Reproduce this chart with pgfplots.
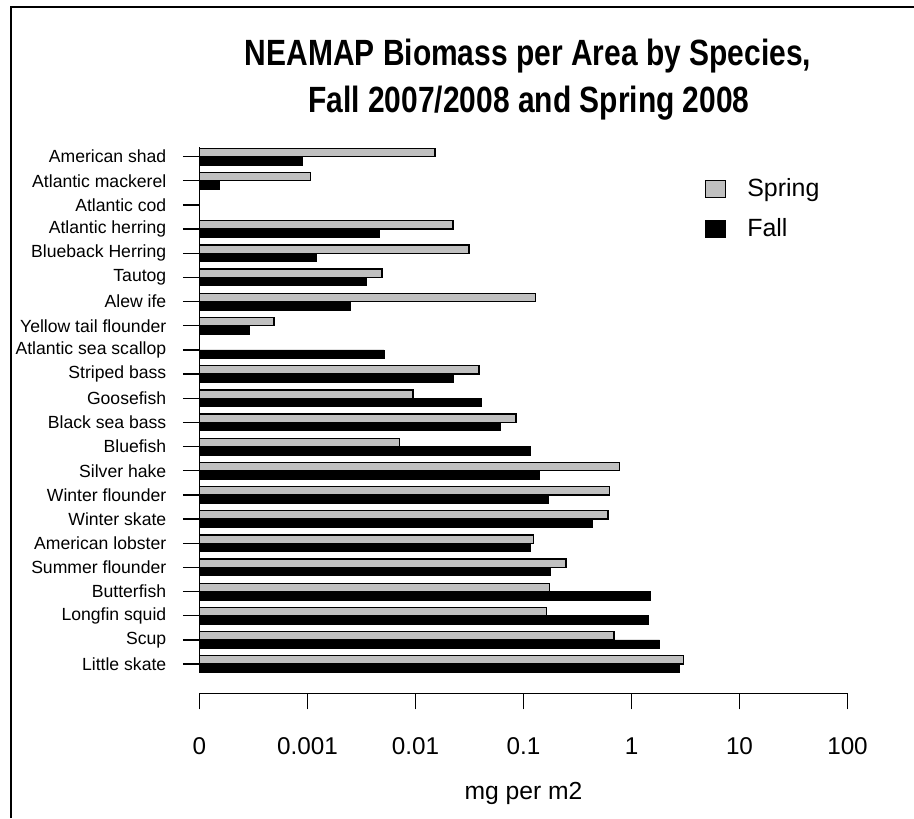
\documentclass[border=0pt]{standalone}
\usepackage{fontspec}
\setmainfont{Liberation Sans}
\newfontfamily\titlefont{Liberation Sans}[FakeStretch=0.82]
\usepackage{pgfplots}
\pgfplotsset{compat=1.18}
\definecolor{springgray}{RGB}{192,192,192}

\begin{document}
\begin{tikzpicture}
\useasboundingbox (0,0) rectangle (685.5pt,-613.5pt);
\draw[line width=1.5pt] (8.25pt,-613.5pt) -- (8.25pt,-5pt) -- (685.5pt,-5pt);
\node[font=\titlefont\bfseries\fontsize{27.4}{33}\selectfont, anchor=base, inner sep=0pt] at (396pt,-49pt) {NEAMAP Biomass per Area by Species,};
\node[font=\titlefont\bfseries\fontsize{27.4}{33}\selectfont, anchor=base, inner sep=0pt] at (396.75pt,-84pt) {Fall 2007/2008 and Spring 2008};

\begin{axis}[
  at={(149.625pt,-111pt)}, anchor=north west,
  scale only axis, width=486pt, height=393.5pt,
  xmode=log, xmin=1e-4, xmax=100, log origin x=infty,
  ymin=-0.355, ymax=21.355,
  axis x line=none, axis y line*=left,
  y axis line style={line width=1pt, -},
  ytick={0,...,21},
  yticklabels={Little skate, Scup, Longfin squid, Butterfish, Summer flounder, American lobster, Winter skate, Winter flounder, Silver hake, Bluefish, Black sea bass, Goosefish, Striped bass, Atlantic sea scallop, Yellow tail flounder, Alew ife, Tautog, Blueback Herring, Atlantic herring, Atlantic cod, Atlantic mackerel, American shad},
  tick align=outside, major tick length=12.5pt,
  ytick style={line width=1pt, black},
  yticklabel style={font=\fontsize{13.2}{15}\selectfont, anchor=east, inner sep=0pt, xshift=-12.25pt},
  xbar, bar width=0.345,
  clip=false,
  legend cell align=left,
  legend image code/.code={\draw[#1, line width=0.6pt] (0pt,-6.375pt) rectangle (15pt,6.375pt);},
  legend style={draw=none, fill=none, at={(axis description cs:0.780,0.947)}, anchor=north west,
    font=\fontsize{18.7}{22}\selectfont, row sep=11pt, inner sep=0pt,
    /tikz/every odd column/.style={column sep=14pt}},
]
\addplot[fill=springgray, draw=black, line width=1pt, bar shift=0.1725] coordinates {
(3.03,0) (0.691,1) (0.163,2) (0.174,3) (0.247,4) (0.124,5) (0.605,6) (0.626,7) (0.769,8) (0.00711,9) (0.0851,10) (0.00946,11) (0.0386,12) (0.0001,13) (0.000489,14) (0.129,15) (0.00489,16) (0.0314,17) (0.0222,18) (0.0001,19) (0.00107,20) (0.0152,21)
};
\addplot[fill=black, draw=black, line width=0.5pt, bar shift=-0.1725] coordinates {
(2.75,0) (1.82,1) (1.44,2) (1.49,3) (0.177,4) (0.116,5) (0.433,6) (0.170,7) (0.139,8) (0.116,9) (0.0609,10) (0.0403,11) (0.0225,12) (0.00510,13) (0.000287,14) (0.00248,15) (0.00350,16) (0.00120,17) (0.00461,18) (0.0001,19) (0.000153,20) (0.000887,21)
};
\legend{Spring, Fall}
\end{axis}
\draw[black, line width=1.3pt] (149.625pt,-110.5pt) -- (149.625pt,-505pt);

\begin{axis}[
  at={(149.625pt,-520pt)}, anchor=south west,
  scale only axis, width=486pt, height=20pt,
  xmode=log, xmin=1e-4, xmax=100,
  ymin=0, ymax=1,
  axis y line=none, axis x line*=bottom,
  x axis line style={line width=1pt, -},
  xtick={1e-4,1e-3,1e-2,1e-1,1,10,100},
  xticklabels={0,0.001,0.01,0.1,1,10,100},
  xminorticks=false,
  tick align=outside, major tick length=12pt,
  xtick style={line width=1pt, black},
  xticklabel style={font=\fontsize{18.2}{22}\selectfont, anchor=base, inner sep=0pt, yshift=-33.5pt},
  xlabel={mg per m2},
  xlabel style={font=\fontsize{18.5}{22}\selectfont, at={(axis description cs:0.5,0)}, anchor=base, inner sep=0pt, yshift=-79.3pt},
]
\addplot[draw=none] coordinates {(1,0.5)};
\end{axis}
\end{tikzpicture}
\end{document}
